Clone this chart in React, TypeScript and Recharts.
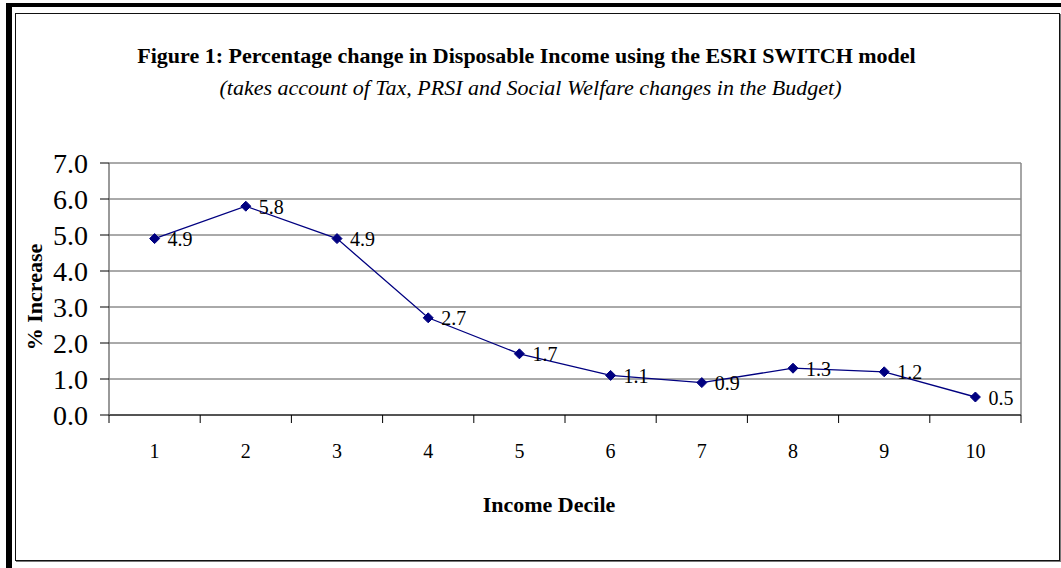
import React from "react";
import {
  LineChart,
  Line,
  XAxis,
  YAxis,
  CartesianGrid,
  ReferenceLine,
  LabelList,
  Label,
} from "recharts";

const deciles = [1, 2, 3, 4, 5, 6, 7, 8, 9, 10];
const pctIncrease = [4.9, 5.8, 4.9, 2.7, 1.7, 1.1, 0.9, 1.3, 1.2, 0.5];
const yTicks = [0, 1, 2, 3, 4, 5, 6, 7];
// tick marks sit between deciles, labels sit on them
const decileEdges = [0.5, 1.5, 2.5, 3.5, 4.5, 5.5, 6.5, 7.5, 8.5, 9.5, 10.5];

const data = deciles.map((d, i) => ({ decile: d, value: pctIncrease[i] }));

const SERIF = '"Liberation Serif", "Times New Roman", serif';
const NAVY = "#000080";

const Diamond = (props: any) => {
  const { cx, cy, index } = props;
  if (cx == null || cy == null) return null;
  const r = 5;
  return (
    <path
      key={`dot-${index}`}
      d={`M${cx},${cy - r} L${cx + r},${cy} L${cx},${cy + r} L${cx - r},${cy} Z`}
      fill={NAVY}
      stroke={NAVY}
    />
  );
};

const ValueLabel = (props: any) => {
  const { x, y, value } = props;
  return (
    <text
      x={x + 13}
      y={y + 3}
      dominantBaseline="middle"
      fontFamily={SERIF}
      fontSize={20}
      fill="#000"
    >
      {value.toFixed(1)}
    </text>
  );
};

const DecileTick = (props: any) => {
  const { x, y, payload } = props;
  return (
    <text
      x={x}
      y={y + 37}
      textAnchor="middle"
      dominantBaseline="middle"
      fontFamily={SERIF}
      fontSize={20}
      fill="#000"
    >
      {payload.value}
    </text>
  );
};

const EdgeTick = (props: any) => {
  const { x, y } = props;
  return <line x1={x} x2={x} y1={y} y2={y + 8} stroke="#000" strokeWidth={1} />;
};

const PctTick = (props: any) => {
  const { x, y, payload } = props;
  return (
    <g>
      <line x1={x - 9} x2={x} y1={y} y2={y} stroke="#000" strokeWidth={1} />
      <text
        x={x - 21}
        y={y}
        textAnchor="end"
        dominantBaseline="central"
        fontFamily={SERIF}
        fontSize={28}
        fill="#000"
      >
        {payload.value.toFixed(1)}
      </text>
    </g>
  );
};

export default function App() {
  return (
    <div
      style={{
        position: "absolute",
        left: 0,
        top: 0,
        width: 1061,
        height: 568,
        background: "#fff",
        overflow: "hidden",
      }}
    >
      {/* outer page border */}
      <div style={{ position: "absolute", left: 6, top: 3, width: 1061, height: 4, background: "#000" }} />
      <div style={{ position: "absolute", left: 6, top: 3, width: 6, height: 568, background: "#000" }} />
      <div
        style={{
          position: "absolute",
          left: 15,
          top: 13,
          width: 1043,
          height: 546,
          border: "1px solid #111",
          boxShadow: "1px 1px 0 #777",
        }}
      />
      <div
        style={{
          position: "absolute",
          left: 0,
          top: 43,
          width: 1061,
          textAlign: "center",
          fontFamily: SERIF,
          fontWeight: "bold",
          fontSize: 22,
          lineHeight: "26px",
          paddingRight: 8,
          boxSizing: "border-box",
        }}
      >
        Figure 1: Percentage change in Disposable Income using the ESRI SWITCH model
      </div>
      <div
        style={{
          position: "absolute",
          left: 0,
          top: 75,
          width: 1061,
          textAlign: "center",
          fontFamily: SERIF,
          fontStyle: "italic",
          fontSize: 22,
          lineHeight: "26px",
        }}
      >
        (takes account of Tax, PRSI and Social Welfare changes in the Budget)
      </div>

      <div style={{ position: "absolute", left: 0, top: 0 }}>
        <LineChart
          width={1061}
          height={568}
          data={data}
          margin={{ top: 163, right: 40, bottom: 92, left: 0 }}
        >
          <CartesianGrid vertical={false} stroke="#555" strokeWidth={1} />
          {/* default axis: category edge tick marks along the baseline */}
          <XAxis
            dataKey="decile"
            type="number"
            domain={[0.5, 10.5]}
            ticks={decileEdges}
            tick={<EdgeTick />}
            tickSize={0}
            tickMargin={0}
            interval={0}
            height={1}
            axisLine={false}
            tickLine={false}
          />
          <XAxis
            xAxisId="labels"
            dataKey="decile"
            type="number"
            domain={[0.5, 10.5]}
            ticks={deciles}
            tick={<DecileTick />}
            tickSize={0}
            tickMargin={0}
            height={60}
            axisLine={false}
            tickLine={false}
            interval={0}
          >
            <Label
              content={(p: any) => {
                const vb = p.viewBox;
                return (
                  <text
                    x={vb.x + vb.width / 2 - 16}
                    y={507}
                    textAnchor="middle"
                    dominantBaseline="middle"
                    fontFamily={SERIF}
                    fontWeight="bold"
                    fontSize={22}
                    fill="#000"
                  >
                    Income Decile
                  </text>
                );
              }}
            />
          </XAxis>
          <YAxis
            type="number"
            domain={[0, 7]}
            ticks={yTicks}
            interval={0}
            width={109}
            tickSize={0}
            tickMargin={0}
            tick={<PctTick />}
            axisLine={{ stroke: "#777", strokeWidth: 1.5 }}
            tickLine={false}
          >
            <Label
              content={(p: any) => {
                const vb = p.viewBox;
                const cx = 37;
                const cy = vb.y + vb.height / 2 + 8;
                return (
                  <text
                    x={cx}
                    y={cy}
                    transform={`rotate(-90 ${cx} ${cy})`}
                    textAnchor="middle"
                    dominantBaseline="middle"
                    fontFamily={SERIF}
                    fontWeight="bold"
                    fontSize={22}
                    fill="#000"
                  >
                    % Increase
                  </text>
                );
              }}
            />
          </YAxis>
          <ReferenceLine x={10.5} stroke="#888" strokeWidth={1.5} />
          <ReferenceLine y={0} stroke="#000" strokeWidth={1.2} />
          <Line
            type="linear"
            dataKey="value"
            stroke={NAVY}
            strokeWidth={1.3}
            dot={<Diamond />}
            activeDot={false}
            isAnimationActive={false}
          >
            <LabelList dataKey="value" content={<ValueLabel />} />
          </Line>
        </LineChart>
      </div>
    </div>
  );
}
